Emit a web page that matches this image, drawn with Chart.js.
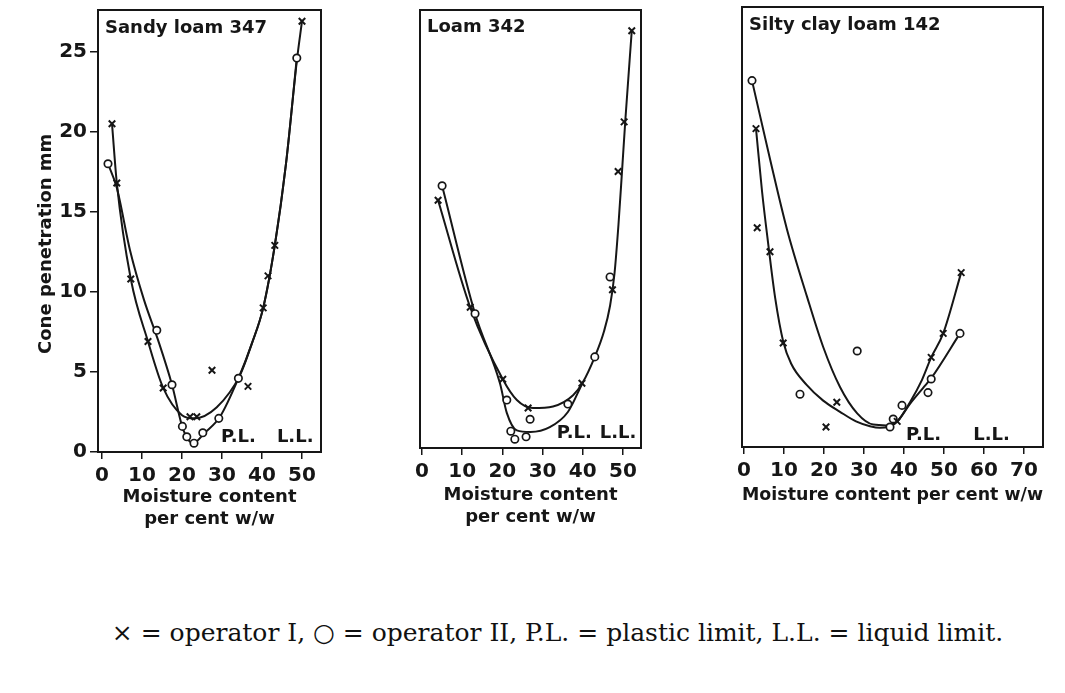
<!DOCTYPE html>
<html>
<head>
<meta charset="utf-8">
<script src="https://cdn.jsdelivr.net/npm/chart.js@4.4.0/dist/chart.umd.min.js"></script>
<style>
  body { margin: 0; background: #fff; width: 1065px; height: 693px; position: relative; overflow: hidden; }
  canvas { position: absolute; top: 0; }
  #p1 { left: 0; }
  #p2 { left: 380px; }
  #p3 { left: 700px; }
  .caption {
    position: absolute; left: 0; top: 618px; width: 1115px; text-align: center;
    font-family: 'DejaVu Serif', serif; font-size: 25px; color: #111; white-space: nowrap;
  }
</style>
</head>
<body>
<canvas id="p1" width="340" height="540"></canvas>
<canvas id="p2" width="280" height="540"></canvas>
<canvas id="p3" width="365" height="540"></canvas>
<div class="caption">× = operator I, ○ = operator II, P.L. = plastic limit, L.L. = liquid limit.</div>

<script>
'use strict';

// ===== TICKS =====
const xTicksSandy = [0, 10, 20, 30, 40, 50];
const yTicksSandy = [0, 5, 10, 15, 20, 25];
const xTicksLoam = [0, 10, 20, 30, 40, 50];
const xTicksSilty = [0, 10, 20, 30, 40, 50, 60, 70];

// ===== SANDY LOAM 347 (moisture %, cone penetration mm) =====
const sandyOpI = [[2.5, 20.5], [3.7, 16.8], [7.2, 10.8], [11.5, 6.9], [15.3, 4.0], [22.0, 2.2], [23.7, 2.2],
  [27.5, 5.1], [36.5, 4.1], [40.3, 9.0], [41.5, 11.0], [43.2, 12.9], [50.0, 26.9]];
const sandyOpII = [[1.5, 18.0], [13.7, 7.6], [17.5, 4.2], [20.1, 1.6], [21.2, 0.95], [23.0, 0.55], [25.2, 1.2],
  [29.2, 2.1], [34.1, 4.6], [48.7, 24.6]];
const sandyCurveI = [[2.5, 20.5], [3.7, 16.8], [7.2, 10.8], [11.5, 6.9], [15.3, 4.0], [20.0, 2.3], [23.0, 2.1],
  [28.7, 2.8], [34.5, 4.8], [37.5, 6.8], [40.3, 9.0], [43.2, 12.9], [46.0, 18.0], [48.7, 24.4], [50.0, 26.9]];
const sandyCurveII = [[1.5, 18.0], [3.7, 16.5], [7.0, 12.6], [10.5, 9.5], [14.0, 7.0], [17.5, 4.2], [20.3, 1.4],
  [22.8, 0.55], [25.7, 1.2], [29.5, 2.2], [34.1, 4.6], [37.5, 6.8], [40.3, 9.0], [43.2, 12.9], [46.0, 18.0],
  [48.7, 24.6]];

// ===== LOAM 342 =====
const loamOpI = [[4.0, 15.5], [12.0, 8.8], [20.1, 4.3], [26.4, 2.5], [39.8, 4.05], [47.4, 9.9], [48.8, 17.3],
  [50.3, 20.4], [52.2, 26.1]];
const loamOpII = [[5.0, 16.4], [13.2, 8.4], [21.1, 3.0], [22.1, 1.05], [23.1, 0.55], [25.9, 0.7], [26.9, 1.8],
  [36.3, 2.75], [43.0, 5.7], [46.8, 10.7]];
const loamCurveI = [[4.0, 15.5], [12.0, 8.8], [20.1, 4.3], [23.6, 3.0], [27.6, 2.5], [32.6, 2.6], [37.6, 3.3],
  [40.0, 4.1], [43.0, 5.7], [45.3, 7.3], [46.8, 8.9], [47.9, 10.9], [48.9, 14.0], [49.8, 17.4], [50.6, 20.5],
  [52.2, 26.1]];
const loamCurveII = [[5.0, 16.4], [13.2, 8.4], [19.4, 4.05], [21.1, 2.2], [23.6, 1.1], [27.0, 1.0], [31.8, 1.3],
  [36.3, 2.25], [40.0, 4.1]];

// ===== SILTY CLAY LOAM 142 =====
const siltyOpI = [[3.0, 19.9], [3.3, 13.7], [6.5, 12.2], [9.8, 6.5], [20.5, 1.25], [23.2, 2.8], [38.3, 1.6],
  [46.8, 5.6], [49.8, 7.1], [54.3, 10.9]];
const siltyOpII = [[2.0, 22.9], [14.0, 3.3], [28.3, 6.0], [36.5, 1.25], [37.3, 1.75], [39.5, 2.6], [46.0, 3.4],
  [46.8, 4.25], [54.0, 7.1]];
const siltyCurveI = [[3.0, 19.9], [4.5, 16.0], [6.0, 12.8], [7.8, 9.3], [9.8, 6.6], [11.8, 5.2], [15.6, 3.9],
  [19.8, 2.9], [24.0, 2.2], [28.0, 1.6], [31.5, 1.3], [34.0, 1.2], [38.3, 1.6], [41.5, 2.8], [44.5, 4.2],
  [46.8, 5.6], [49.8, 7.1], [54.3, 10.9]];
const siltyCurveII = [[2.0, 22.9], [6.5, 18.0], [10.75, 13.6], [15.75, 9.4], [19.8, 6.25], [24.0, 3.75],
  [28.3, 2.1], [32.3, 1.4], [35.7, 1.35], [38.3, 1.6], [41.5, 2.7], [44.8, 3.7], [46.8, 4.3], [54.0, 7.1]];

const INK = '#161616';
const FONT = "'DejaVu Sans', sans-serif";
const pts = arr => arr.map(([x, y]) => ({ x, y }));

// frame + text inside the plot (soil name, P.L., L.L.) and the y title
const panelText = {
  id: 'panelText',
  afterDraw(chart, args, o) {
    const { ctx, chartArea: { left, top, right, bottom }, scales: { x, y } } = chart;
    ctx.save();
    ctx.strokeStyle = INK; ctx.lineWidth = 2;
    ctx.strokeRect(left, top, right - left, bottom - top);
    ctx.fillStyle = INK;
    ctx.font = 'bold 18px ' + FONT;
    ctx.textBaseline = 'alphabetic'; ctx.textAlign = 'left';
    ctx.fillText(o.name, left + 7, top + o.nameDy);
    ctx.textAlign = 'center';
    o.limits.forEach(l => ctx.fillText(l.text, x.getPixelForValue(l.x), y.getPixelForValue(l.y)));
    if (o.yTitle) {
      ctx.translate(o.yTitle.px, y.getPixelForValue(o.yTitle.at));
      ctx.rotate(-Math.PI / 2);
      ctx.textBaseline = 'middle';
      ctx.fillText(o.yTitle.text, 0, 0);
    }
    ctx.restore();
  }
};

function noPad(s) { s.paddingTop = 0; s.paddingBottom = 0; s.paddingLeft = 0; s.paddingRight = 0; }

function buildPanel(id, p) {
  const tickGrid = { display: true, drawOnChartArea: false, drawTicks: true, tickLength: 7, color: INK, lineWidth: 1.5 };
  new Chart(document.getElementById(id), {
    type: 'scatter',
    data: {
      datasets: [
        { label: 'operator I', data: pts(p.opI), pointStyle: 'crossRot', pointRadius: 4.6,
          borderColor: INK, borderWidth: 2, showLine: false },
        { label: 'operator II', data: pts(p.opII), pointStyle: 'circle', pointRadius: 3.7,
          borderColor: INK, backgroundColor: '#fff', borderWidth: 1.7, showLine: false },
        { label: 'curve I', data: pts(p.curveI), showLine: true, pointRadius: 0, borderColor: INK,
          borderWidth: 2, cubicInterpolationMode: 'monotone' },
        { label: 'curve II', data: pts(p.curveII), showLine: true, pointRadius: 0, borderColor: INK,
          borderWidth: 2, cubicInterpolationMode: 'monotone' },
      ]
    },
    options: {
      responsive: false, animation: false, devicePixelRatio: 1,
      layout: { padding: { top: p.padTop, right: p.padRight, left: 0, bottom: 0 } },
      plugins: {
        legend: { display: false }, tooltip: { enabled: false },
        panelText: { name: p.name, nameDy: p.nameDy, limits: p.limits, yTitle: p.yTitle }
      },
      scales: {
        x: {
          type: 'linear', min: p.xMin, max: p.xMax,
          afterBuildTicks: s => { s.ticks = p.xTicks.map(v => ({ value: v })); },
          afterFit: s => { s.height = p.xAxisH; noPad(s); },
          ticks: { color: INK, font: { family: FONT, size: 20, weight: 'bold' }, padding: 5, maxRotation: 0, autoSkip: false },
          grid: tickGrid, border: { display: false },
          title: { display: true, text: p.xTitle, color: INK,
            font: { family: FONT, size: 18, weight: 'bold', lineHeight: 1.2 },
            padding: { top: 0, bottom: p.xTitlePad } }
        },
        y: {
          type: 'linear', min: 0, max: p.yMax,
          afterBuildTicks: s => { s.ticks = (p.yTicks || []).map(v => ({ value: v })); },
          afterFit: s => { s.width = p.yAxisW; noPad(s); },
          ticks: { display: !!p.yTicks, color: INK, font: { family: FONT, size: 20, weight: 'bold' }, padding: 3 },
          grid: p.yTicks ? Object.assign({}, tickGrid, { tickLength: 8 }) : { display: false },
          border: { display: false }
        }
      }
    },
    plugins: [panelText]
  });
}

buildPanel('p1', {
  name: 'Sandy loam 347', nameDy: 23,
  opI: sandyOpI, opII: sandyOpII, curveI: sandyCurveI, curveII: sandyCurveII,
  xTicks: xTicksSandy, yTicks: yTicksSandy,
  xMin: -1, xMax: 54.75, yMax: 27.6,
  padTop: 10, padRight: 19, yAxisW: 98, xAxisH: 88,
  xTitle: ['Moisture content', 'per cent w/w'], xTitlePad: 10,
  limits: [{ text: 'P.L.', x: 34.1, y: 0.6 }, { text: 'L.L.', x: 48.3, y: 0.6 }],
  yTitle: { text: 'Cone penetration mm', px: 46, at: 13.0 }
});

buildPanel('p2', {
  name: 'Loam 342', nameDy: 22,
  opI: loamOpI, opII: loamOpII, curveI: loamCurveI, curveII: loamCurveII,
  xTicks: xTicksLoam, yTicks: null,
  xMin: -0.5, xMax: 54.5, yMax: 27.4,
  padTop: 10, padRight: 19, yAxisW: 40, xAxisH: 92,
  xTitle: ['Moisture content', 'per cent w/w'], xTitlePad: 12,
  limits: [{ text: 'P.L.', x: 37.9, y: 0.6 }, { text: 'L.L.', x: 48.8, y: 0.6 }]
});

buildPanel('p3', {
  name: 'Silty clay loam 142', nameDy: 23,
  opI: siltyOpI, opII: siltyOpII, curveI: siltyCurveI, curveII: siltyCurveII,
  xTicks: xTicksSilty, yTicks: null,
  xMin: -0.5, xMax: 74.75, yMax: 27.5,
  padTop: 7, padRight: 22, yAxisW: 42, xAxisH: 93,
  xTitle: 'Moisture content per cent w/w', xTitlePad: 34,
  limits: [{ text: 'P.L.', x: 44.9, y: 0.45 }, { text: 'L.L.', x: 61.9, y: 0.45 }]
});
</script>
</body>
</html>
